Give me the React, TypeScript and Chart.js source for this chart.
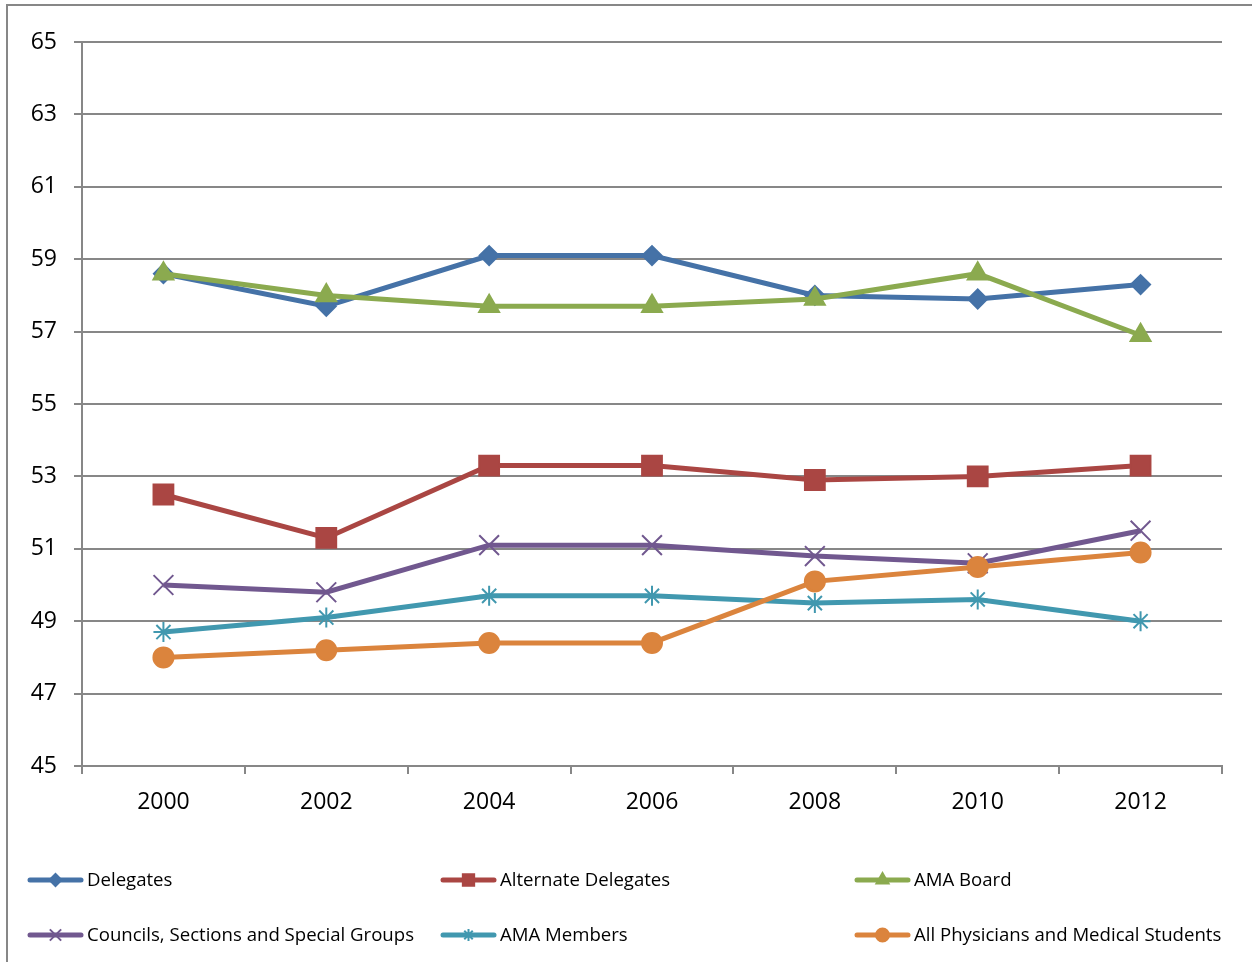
import React, { useEffect, useRef } from "react";
import { Chart, registerables } from "chart.js";
import { drawPoint } from "chart.js/helpers";

Chart.register(...registerables);

const years = ["2000", "2002", "2004", "2006", "2008", "2010", "2012"];
const delegates = [58.6, 57.7, 59.1, 59.1, 58.0, 57.9, 58.3];
const alternateDelegates = [52.5, 51.3, 53.3, 53.3, 52.9, 53.0, 53.3];
const amaBoard = [58.6, 58.0, 57.7, 57.7, 57.9, 58.6, 56.9];
const councils = [50.0, 49.8, 51.1, 51.1, 50.8, 50.6, 51.5];
const amaMembers = [48.7, 49.1, 49.7, 49.7, 49.5, 49.6, 49.0];
const allPhysicians = [48.0, 48.2, 48.4, 48.4, 50.1, 50.5, 50.9];

const seriesNames = [
  "Delegates",
  "Alternate Delegates",
  "AMA Board",
  "Councils, Sections and Special Groups",
  "AMA Members",
  "All Physicians and Medical Students",
];
const seriesValues = [delegates, alternateDelegates, amaBoard, councils, amaMembers, allPhysicians];
const colors = ["#4572A7", "#AA4643", "#8BAA4F", "#71588F", "#4198AF", "#DB843D"];
const markers = ["rectRot", "rect", "triangle", "crossRot", "star", "circle"];
const markerRadius = [9.5, 14, 11.5, 14, 10, 10];
const legendRadius = [6, 8, 7, 8, 6, 6.5];

const FONT = "'Open Sans', 'DejaVu Sans', sans-serif";
const GRID = "#878787";

export default function App() {
  const ref = useRef<HTMLCanvasElement | null>(null);

  useEffect(() => {
    if (!ref.current) return;
    const bgBorder = {
      id: "bgBorder",
      beforeDraw(chart: any) {
        const ctx = chart.ctx;
        ctx.save();
        ctx.fillStyle = "#ffffff";
        ctx.fillRect(0, 0, chart.width, chart.height);
        ctx.strokeStyle = GRID;
        ctx.lineWidth = 2;
        ctx.strokeRect(7, 5, 1400, 1200);
        ctx.restore();
      },
    };
    const legendPlugin = {
      id: "excelLegend",
      afterDraw(chart: any) {
        const ctx = chart.ctx;
        const cols = [28, 441, 855];
        const rows = [880, 935];
        ctx.save();
        seriesNames.forEach((name, i) => {
          const x0 = cols[i % 3];
          const y = rows[Math.floor(i / 3)];
          ctx.strokeStyle = colors[i];
          ctx.lineWidth = 5;
          ctx.lineCap = "round";
          ctx.beginPath();
          ctx.moveTo(x0 + 2, y);
          ctx.lineTo(x0 + 53, y);
          ctx.stroke();
          ctx.fillStyle = colors[i];
          ctx.strokeStyle = colors[i];
          ctx.lineWidth = 2;
          ctx.lineCap = "butt";
          drawPoint(ctx, { pointStyle: markers[i], radius: legendRadius[i], rotation: 0, borderWidth: 2 }, x0 + 27.5, y);
          ctx.fillStyle = "#000000";
          ctx.font = `18.6px ${FONT}`;
          ctx.textBaseline = "middle";
          ctx.textAlign = "left";
          ctx.fillText(name, x0 + 59, y + 1);
        });
        ctx.restore();
      },
    };

    const chart = new Chart(ref.current, {
      type: "line",
      data: {
        labels: years,
        datasets: seriesValues.map((vals, i) => ({
          label: seriesNames[i],
          data: vals,
          borderColor: colors[i],
          backgroundColor: colors[i],
          borderWidth: 5,
          pointStyle: markers[i] as any,
          pointRadius: markerRadius[i],
          pointBorderWidth: 2,
          pointBorderColor: colors[i],
          pointBackgroundColor: colors[i],
          tension: 0,
          fill: false,
          order: 5 - i,
        })),
      },
      options: {
        responsive: false,
        animation: false,
        layout: { padding: { left: 0, right: 30, top: 42, bottom: 0 } },
        plugins: { legend: { display: false }, tooltip: { enabled: false } },
        scales: {
          x: {
            type: "category",
            offset: true,
            grid: {
              offset: true,
              drawOnChartArea: false,
              drawTicks: true,
              tickLength: 8,
              color: GRID,
              lineWidth: 2,
            },
            border: { display: true, color: GRID, width: 2 },
            ticks: {
              color: "#000000",
              font: { family: FONT, size: 23 },
              padding: 15,
              maxRotation: 0,
            },
            afterFit(scale: any) {
              scale.height = 196;
            },
          },
          y: {
            min: 45,
            max: 65,
            grid: {
              color: GRID,
              lineWidth: 2,
              tickLength: 8,
              drawTicks: true,
            },
            border: { display: true, color: GRID, width: 2 },
            ticks: {
              stepSize: 2,
              color: "#000000",
              font: { family: FONT, size: 23 },
              padding: 17,
            },
            afterFit(scale: any) {
              scale.width = 82;
            },
          },
        },
      },
      plugins: [bgBorder, legendPlugin],
    });
    return () => chart.destroy();
  }, []);

  return (
    <div style={{ position: "absolute", left: 0, top: 0, width: 1252, height: 962 }}>
      <canvas ref={ref} width={1252} height={962} style={{ display: "block" }} />
    </div>
  );
}
